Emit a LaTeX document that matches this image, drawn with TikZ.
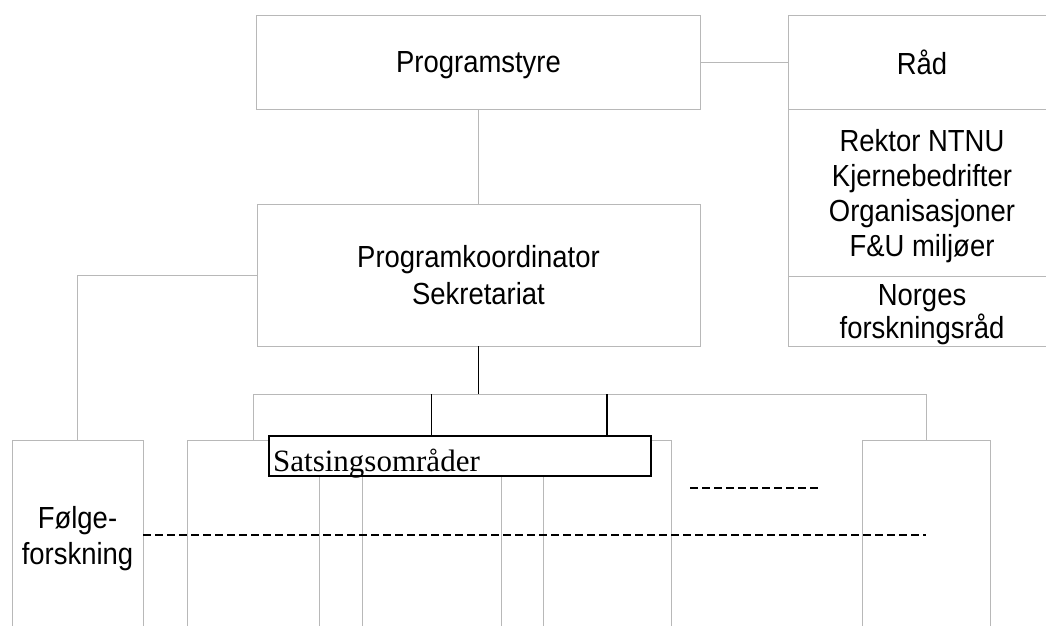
\documentclass[tikz,border=0pt]{standalone}
\usepackage{fontspec}
\setmainfont{Liberation Sans}[FakeStretch=0.9]
\newfontfamily\serifface{Liberation Serif}
\usepackage{xcolor}
\definecolor{linegray}{gray}{0.72}

\begin{document}
\begin{tikzpicture}[x=1pt,y=-1pt,
  box/.style={draw=linegray,line width=0.9pt,inner sep=0pt,outer sep=0pt,align=center,
    text depth=0pt,font=\fontsize{30.5}{36}\selectfont},
  col/.style={box,minimum width=#1,minimum height=190pt,anchor=north},
  conn/.style={linegray,line width=0.9pt},
  bline/.style={black,line width=1.2pt},
  dline/.style={black,line width=1.6pt,dash pattern=on 8pt off 4pt}]
  \useasboundingbox (0,0) rectangle (1046,625);
  \clip (0,0) rectangle (1046,625);

  \node[box,minimum width=444pt,minimum height=94pt] (styre) at (478.5,62) {Programstyre};
  \node[box,minimum width=268pt,minimum height=94pt] (raad) at (922,62) {Råd};
  \node[box,minimum width=268pt,minimum height=167pt,font=\fontsize{30.5}{35}\selectfont] (medlem) at (922,192.5)
    {Rektor NTNU\\Kjernebedrifter\\Organisasjoner\\F\&U miljøer};
  \node[box,minimum width=268pt,minimum height=70pt,font=\fontsize{30.5}{33}\selectfont] (nfr) at (922,311) {Norges\\forskningsråd};
  \node[box,minimum width=443pt,minimum height=142pt,font=\fontsize{30.5}{37}\selectfont] (koord) at (478.5,275)
    {Programkoordinator\\Sekretariat};

  % kolonner
  \node[col=131pt] (folge) at (77.5,440) {Følge-\\forskning};
  \node[col=132pt] (colA) at (253,440) {};
  \node[col=139pt] (colB) at (431.5,440) {};
  \node[col=128pt] (colC) at (607,440) {};
  \node[col=128pt] (colD) at (926,440) {};

  \draw[conn] (styre) -- (koord);
  \draw[conn] (styre) -- (raad);
  \draw[conn] (koord.west) -| (folge.north);

  \coordinate (bus) at (478.5,394);
  \draw[bline] (koord.south) -- (bus);
  \draw[conn] (colA.north) |- (bus) -| (colD.north);
  \draw[bline] (colB.north |- bus) -- (colB.north);
  \draw[bline] (colC.north |- bus) -- (colC.north);

  \node[draw,line width=2pt,fill=white,minimum width=382pt,minimum height=40pt,inner sep=0pt] (sats) at (460,456) {};
  \node[font=\serifface\fontsize{31}{31}\selectfont,anchor=base west,inner sep=0pt] (satstxt) at (273,471) {Satsingsområder};

  \coordinate (etcL) at (690,488);
  \coordinate (etcR) at (820,488);
  \draw[dline] (etcL) -- (etcR);
  \draw[dline] (folge.east) -- (folge.east -| colD.north);
\end{tikzpicture}
\end{document}
